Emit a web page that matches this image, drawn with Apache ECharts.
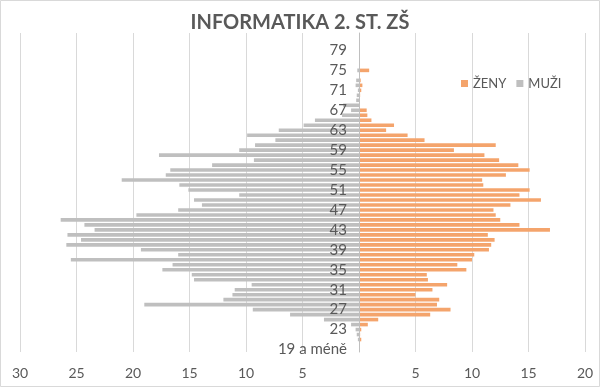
<!DOCTYPE html>
<html>
<head>
<meta charset="utf-8">
<script src="https://cdn.jsdelivr.net/npm/echarts@6/dist/echarts.min.js"></script>
<style>
html,body{margin:0;padding:0;background:#fff;}
#chart{width:600px;height:387px;}
</style>
</head>
<body>
<div id="chart"></div>
<script>
const titleText = "INFORMATIKA 2. ST. ZŠ";
const categories = ["19 a méně","20","21","22","23","24","25","26","27","28","29","30","31","32","33","34","35","36","37","38","39","40","41","42","43","44","45","46","47","48","49","50","51","52","53","54","55","56","57","58","59","60","61","62","63","64","65","66","67","68","69","70","71","72","73","74","75","76","77","78","79","80","81","82"];
const muzi = [0,0,0.1,0.2,0.3,0.7,3.1,6.1,9.4,19.0,12.0,11.2,11.0,9.5,14.6,14.8,17.4,16.5,25.5,16.0,19.3,25.9,24.6,25.8,23.4,24.3,26.4,19.7,16.0,13.9,14.6,10.6,15.1,15.9,21.0,17.1,16.7,13.0,9.3,17.7,10.6,9.2,7.4,9.9,7.1,4.9,3.9,1.5,0.7,1.4,0.25,0.2,0.1,0.3,0.25,0,0.15,0,0,0,0,0,0,0];
const zeny = [0,0,0.2,0.1,0.2,0.78,1.7,6.3,8.1,6.9,7.1,5.0,6.5,7.8,6.1,6.0,9.5,8.7,10.0,10.2,11.5,11.7,12.0,11.4,16.9,14.2,12.5,12.1,11.9,13.4,16.1,14.2,15.1,11.0,10.9,13.0,15.1,14.1,12.4,11.1,8.4,12.1,5.8,4.3,2.4,3.1,1.1,0.74,0.68,0,0,0.1,0.2,0.3,0.15,0,0.9,0,0,0,0,0,0,0];
const xMin = -30, xMax = 20, xStep = 5;

const W = 600, gridLeft = 20, gridRight = 15;
const plotW = W - gridLeft - gridRight;
const zeroOffset = -((0 - xMin) / (xMax - xMin)) * plotW;

const font = 'Lato, "Open Sans", sans-serif';
const txt = '#595959';
const chart = echarts.init(document.getElementById('chart'), null, {renderer:'canvas'});
chart.setOption({
  animation:false,
  backgroundColor:'#fff',
  graphic:[{type:'rect',shape:{x:0.5,y:0.5,width:599,height:386},style:{fill:'none',stroke:'#d9d9d9',lineWidth:1},silent:true}],
  title:{text:titleText,left:'center',top:8,textStyle:{fontFamily:font,fontSize:20,fontWeight:'bold',color:txt}},
  legend:{left:456,top:72,itemWidth:7,itemHeight:7,itemGap:10,icon:'rect',
    textStyle:{fontFamily:font,fontSize:13,color:txt},
    data:['ŽENY','MUŽI']},
  grid:{left:gridLeft,right:gridRight,top:33,bottom:35,containLabel:false,outerBoundsMode:'none'},
  xAxis:{type:'value',min:xMin,max:xMax,interval:xStep,
    axisLine:{show:false},axisTick:{show:false},
    splitLine:{show:true,lineStyle:{color:'#d9d9d9',width:1}},
    axisLabel:{fontFamily:font,fontSize:14,color:txt,margin:14,
      formatter:v=> v===0 ? '' : String(Math.abs(v))}},
  yAxis:{type:'category',data:categories,offset:zeroOffset,z:10,
    axisLine:{show:true,onZero:false,lineStyle:{color:'#bfbfbf',width:1}},
    axisTick:{show:false},
    axisLabel:{interval:3,fontFamily:font,fontSize:15,color:txt,margin:12}},
  series:[
    {name:'ŽENY',type:'bar',data:zeny,barGap:'-100%',barCategoryGap:'28%',z:2,itemStyle:{color:'#f4a46c'}},
    {name:'MUŽI',type:'bar',data:muzi.map(v=>-v),barGap:'-100%',barCategoryGap:'28%',z:2,itemStyle:{color:'#bfbfbf'}}
  ]
});
</script>
</body>
</html>
